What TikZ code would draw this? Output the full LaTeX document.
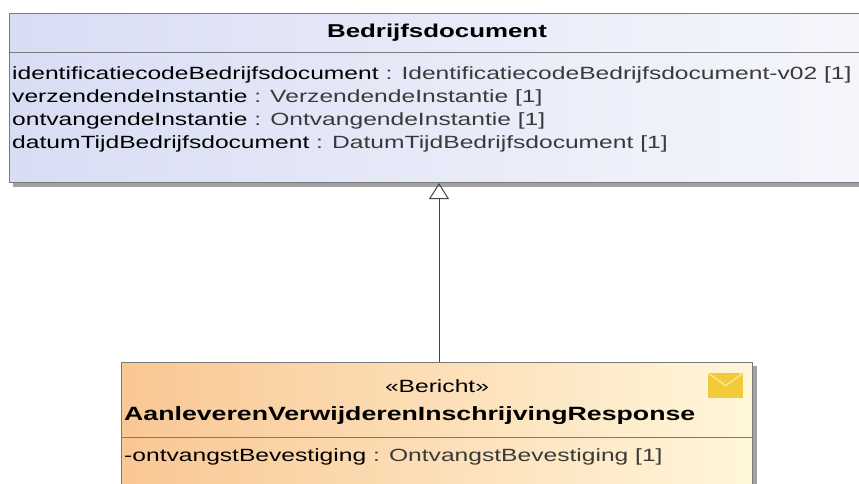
\documentclass[tikz,border=0pt]{standalone}
\usepackage{fontspec}
\setmainfont[FakeStretch=1.39]{Liberation Sans}
\usetikzlibrary{arrows.meta}
\definecolor{boxline}{HTML}{7A7A7A}
\definecolor{shadowgray}{HTML}{A2A2A2}
\definecolor{lavL}{HTML}{D9DDF4}
\definecolor{lavR}{HTML}{F6F7FC}
\definecolor{peachL}{HTML}{F9C794}
\definecolor{peachR}{HTML}{FFF6DA}
\definecolor{typegray}{HTML}{3A3A3A}
\definecolor{envY}{HTML}{F3CB3A}
\definecolor{envL}{HTML}{FBE58C}
\definecolor{linkgray}{HTML}{454545}
\newcommand{\typetext}[1]{{\color{typegray}#1}}
\tikzset{
  umlbox/.style={draw=boxline, line width=1bp, inner sep=0pt, anchor=north west},
  attr/.style={anchor=west, inner sep=0pt, font=\fontsize{17.7bp}{20bp}\selectfont},
  ttl/.style={inner sep=0pt, font=\fontsize{18.6bp}{20bp}\selectfont\bfseries},
  generalization/.style={draw=linkgray, line width=1bp, -{Triangle[open, length=16bp, width=20bp]}}
}
\begin{document}
\begin{tikzpicture}[x=1bp, y=-1bp]
\useasboundingbox (0,0) rectangle (859,484);
\fill[white] (0,0) rectangle (859,484);
% top class
\fill[shadowgray] (13,17) rectangle (880,187);
\node[umlbox, left color=lavL, right color=lavR, minimum width=871bp, minimum height=169bp] (bd) at (9,13) {};
\draw[boxline, line width=1bp] (9,53) -- (880,53);
\node[ttl] (bdname) at (437,33) {Bedrijfsdocument};
\node[attr] (a1) at (12,75) {identificatiecodeBedrijfsdocument \typetext{: IdentificatiecodeBedrijfsdocument-v02 [1]}};
\node[attr] (a2) at (12,98) {verzendendeInstantie \typetext{: VerzendendeInstantie [1]}};
\node[attr] (a3) at (12,121) {ontvangendeInstantie \typetext{: OntvangendeInstantie [1]}};
\node[attr] (a4) at (12,144) {datumTijdBedrijfsdocument \typetext{: DatumTijdBedrijfsdocument [1]}};
% bottom class
\fill[shadowgray] (125,366) rectangle (757,500);
\node[umlbox, left color=peachL, right color=peachR, minimum width=631bp, minimum height=140bp] (resp) at (121,362) {};
\draw[boxline, line width=1bp] (121,437) -- (752,437);
\node[inner sep=0pt, font=\fontsize{17.7bp}{20bp}\selectfont] (stereo) at (437,386) {«Bericht»};
\node[ttl, anchor=west, font=\fontsize{19.2bp}{20bp}\selectfont\bfseries] (respname) at (124,416) {AanleverenVerwijderenInschrijvingResponse};
\node[attr] (r1) at (124,457) {-ontvangstBevestiging \typetext{: OntvangstBevestiging [1]}};
% envelope icon
\node[inner sep=0pt, minimum width=35bp, minimum height=25bp, fill=envY, anchor=north west] (env) at (708,373) {};
\draw[envL, line width=1.5bp] (env.north west) -- (env.center) -- (env.north east);
% generalization
\draw[generalization] (resp.north -| 439,0) -- (bd.south -| 439,0);
\end{tikzpicture}
\end{document}
